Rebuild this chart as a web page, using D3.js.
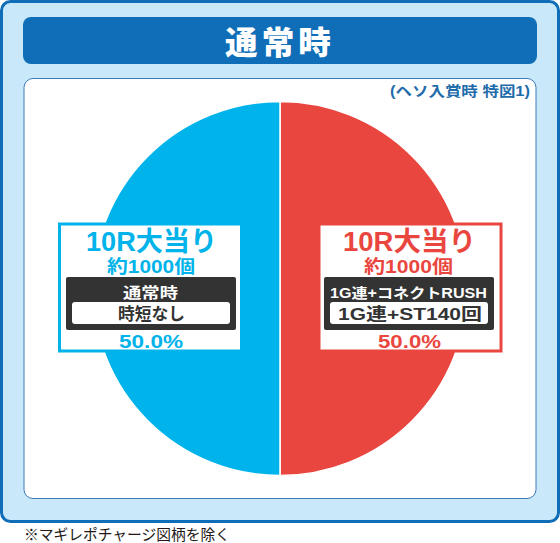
<!DOCTYPE html>
<html><head><meta charset="utf-8">
<script src="https://cdn.jsdelivr.net/npm/d3@7"></script>
<style>html,body{margin:0;padding:0;background:#fff}svg{display:block}text{font-family:"Liberation Sans","Noto Sans CJK JP",sans-serif}</style>
</head><body><div id="c"></div>
<script>
const categories=["10R大当り","10R大当り"];
const values=[50.0,50.0];
const rounds=["約1000個","約1000個"];
const modes=["1G連+コネクトRUSH","通常時"];
const details=["1G連+ST140回","時短なし"];
const percentLabels=["50.0%","50.0%"];
const colors=["#ea4640","#00b3ea"];
const W=560,H=543;
const svg=d3.select("#c").append("svg").attr("width",W).attr("height",H);
function label(p,str,x,y,len,size,fill,weight){
  const t=p.append("text").attr("x",x).attr("y",y).attr("text-anchor","middle").attr("fill",fill)
    .attr("font-size",size).attr("font-weight",weight||700).text(str);
  if(len)t.attr("textLength",len).attr("lengthAdjust","spacingAndGlyphs");
  return t;
}
svg.append("rect").attr("x",1.5).attr("y",1.5).attr("width",557).attr("height",520).attr("rx",9)
  .attr("fill","#c9e8f9").attr("stroke","#0f6eb7").attr("stroke-width",3);
svg.append("rect").attr("x",23).attr("y",17).attr("width",514).attr("height",47).attr("rx",8).attr("fill","#0f6eb7");
label(svg,"通常時",280,54,110,32,"#fff",900).attr("letter-spacing",4);
svg.append("rect").attr("x",24).attr("y",78.5).attr("width",512).attr("height",420).attr("rx",9)
  .attr("fill","#fff").attr("stroke","#3d7cb9").attr("stroke-width",1);
label(svg,"(ヘソ入賞時 特図1)",460,96,140,14,"#1f6cab",700);
const pie=d3.pie().sort(null).value(d=>d)(values);
const arc=d3.arc().innerRadius(0).outerRadius(187);
svg.append("g").attr("transform","translate(280,288.5)").selectAll("path").data(pie).join("path")
  .attr("d",arc).attr("fill",(d,i)=>colors[i]).attr("stroke","#fff").attr("stroke-width",1.5);
const boxes=[
 {x:319,cx:410,dark:324,w:[133,89,157,144,63],c:[409.5,408.5,408.5,410,409.5],ms:14,ds:17},
 {x:59.5,cx:151,dark:66,w:[131,88,55,67,64],c:[151.5,151,150.5,151.5,151],ms:15,ds:17}];
boxes.forEach((b,i)=>{
  const g=svg.append("g"),c=colors[i];
  g.append("rect").attr("x",b.x).attr("y",224).attr("width",182).attr("height",127).attr("fill","#fff").attr("stroke",c).attr("stroke-width",3);
  label(g,categories[i],b.c[0],251,b.w[0],27,c,700);
  label(g,rounds[i],b.c[1],273,b.w[1],18,c,700);
  g.append("rect").attr("x",b.dark).attr("y",277).attr("width",170).attr("height",53).attr("rx",2).attr("fill","#333");
  label(g,modes[i],b.c[2],297.5,b.w[2],b.ms,"#fff",700);
  g.append("rect").attr("x",b.dark+6).attr("y",302).attr("width",158).attr("height",22).attr("rx",3).attr("fill","#fff");
  label(g,details[i],b.c[3],320,b.w[3],b.ds,"#333",700);
  label(g,percentLabels[i],b.c[4],348,b.w[4],19,c,700);
});
svg.append("text").attr("x",24).attr("y",540).attr("fill","#231815").attr("font-size",15).attr("textLength",206).attr("lengthAdjust","spacingAndGlyphs").text("※マギレポチャージ図柄を除く");
</script></body></html>
